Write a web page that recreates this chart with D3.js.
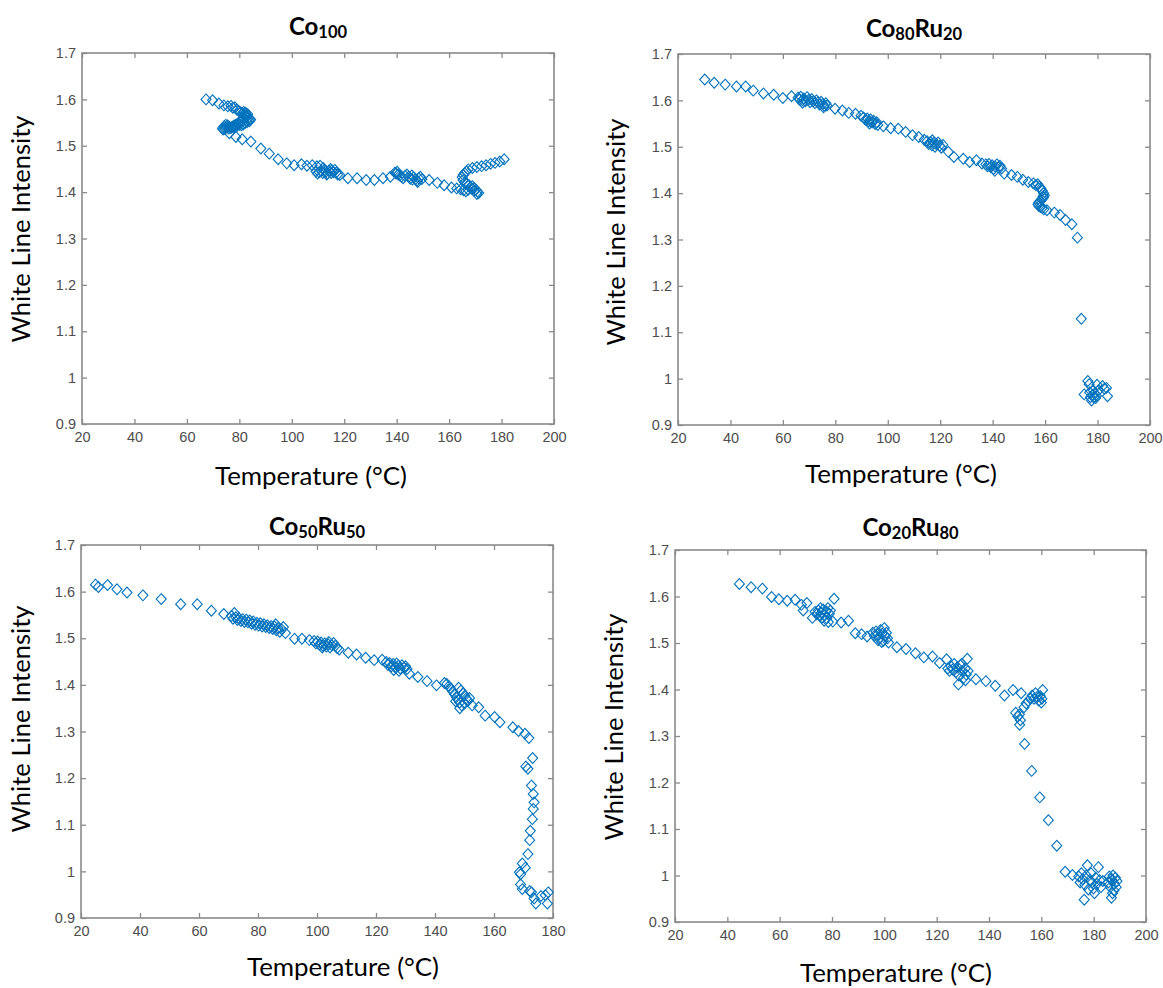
<!DOCTYPE html>
<html>
<head>
<meta charset="utf-8">
<script src="https://cdn.jsdelivr.net/npm/d3@7"></script>
<style>
  html, body { margin: 0; padding: 0; background: #ffffff; }
  svg { display: block; }
</style>
</head>
<body>
<svg id="chart" width="1163" height="988"></svg>
<script>
// ---------------- DATA ----------------
const yTickValues = [0.9, 1, 1.1, 1.2, 1.3, 1.4, 1.5, 1.6, 1.7];
const xTickValues200 = [20, 40, 60, 80, 100, 120, 140, 160, 180, 200];
const xTickValues180 = [20, 40, 60, 80, 100, 120, 140, 160, 180];
const xAxisLabel = "Temperature (°C)";
const yAxisLabel = "White Line Intensity";

const titleCo100 = [["Co", false], ["100", true]];
const titleCo80Ru20 = [["Co", false], ["80", true], ["Ru", false], ["20", true]];
const titleCo50Ru50 = [["Co", false], ["50", true], ["Ru", false], ["50", true]];
const titleCo20Ru80 = [["Co", false], ["20", true], ["Ru", false], ["80", true]];

// [temperature, white line intensity]
const co100 = [
  [67.3,1.600],[69.8,1.598],[72.2,1.591],[74.1,1.587],[75.6,1.585],[76.8,1.586],[77.5,1.582],[78.3,1.583],
  [79.0,1.578],[79.8,1.575],[80.5,1.572],[81.2,1.570],[81.8,1.567],[82.5,1.566],[83.0,1.563],[83.5,1.560],
  [84.0,1.558],[84.3,1.556],[83.8,1.553],[83.0,1.551],[82.2,1.549],[81.5,1.546],[80.8,1.544],[80.0,1.545],
  [79.2,1.543],[78.5,1.541],[77.8,1.543],[77.0,1.540],[76.2,1.541],[75.5,1.544],[74.8,1.545],[74.2,1.542],
  [73.6,1.538],[73.8,1.535],[74.5,1.536],[75.3,1.539],[76.0,1.537],[76.8,1.538],[77.6,1.540],[78.4,1.545],
  [79.3,1.548],[80.2,1.551],[81.0,1.556],[81.8,1.560],[82.6,1.564],[83.2,1.568],[82.4,1.571],[81.6,1.573],
  [76.2,1.527],[78.7,1.519],[81.1,1.514],[84.4,1.509],[88.2,1.494],[91.4,1.483],[94.8,1.471],[98.1,1.462],
  [100.9,1.458],[103.7,1.460],[105.8,1.457],[107.8,1.458],[109.6,1.456],[110.8,1.457],
  [109.2,1.445],[109.8,1.440],[110.5,1.443],[111.2,1.446],[111.8,1.441],[112.4,1.448],[113.0,1.444],[113.6,1.440],
  [114.2,1.446],[114.8,1.450],[115.3,1.447],[115.9,1.443],[116.4,1.448],[116.9,1.442],[117.5,1.438],[112.0,1.452],
  [113.3,1.438],[115.0,1.441],
  [118.3,1.437],[121.4,1.430],[124.9,1.430],[128.4,1.426],[131.5,1.426],[134.8,1.430],[137.6,1.433],
  [139.3,1.442],[139.8,1.440],[140.2,1.444],[140.6,1.438],[141.2,1.436],[141.8,1.433],[142.5,1.430],[143.2,1.435],
  [143.9,1.438],[144.6,1.433],[145.2,1.429],[145.8,1.436],[146.5,1.432],[147.2,1.428],[147.8,1.425],[148.4,1.430],
  [149.0,1.433],[149.6,1.428],[148.0,1.422],[146.0,1.427],
  [152.4,1.426],[155.5,1.420],[158.1,1.415],[160.9,1.410],[162.9,1.408],[164.4,1.406],
  [165.5,1.404],[166.4,1.402],[167.3,1.405],[168.1,1.410],[168.8,1.413],[169.5,1.409],[170.2,1.405],[170.8,1.401],
  [171.3,1.398],[170.6,1.396],[169.6,1.403],[168.6,1.407],[167.6,1.415],[166.8,1.418],[166.0,1.421],[165.3,1.426],
  [165.0,1.432],[165.4,1.437],[165.9,1.441],[166.6,1.445],[167.3,1.449],
  [168.9,1.452],[170.6,1.454],[172.4,1.456],[174.1,1.458],[175.8,1.461],[177.5,1.463],[179.3,1.466],[181.0,1.471]
];

const co80ru20 = [
  [30.2,1.645],[33.8,1.638],[38.0,1.634],[42.3,1.630],[45.8,1.630],[48.7,1.621],[52.6,1.615],[56.5,1.612],
  [60.0,1.605],[63.3,1.609],
  [65.8,1.606],[66.3,1.602],[66.8,1.608],[67.4,1.600],[68.0,1.604],[68.6,1.598],[69.2,1.607],[69.8,1.601],
  [70.4,1.596],[71.0,1.603],[71.6,1.598],[72.2,1.594],[72.8,1.600],[73.4,1.596],[74.0,1.591],[74.6,1.597],
  [75.2,1.592],[75.8,1.588],[76.4,1.594],[76.8,1.589],[75.5,1.585],[67.5,1.595],
  [79.9,1.582],[82.7,1.578],[85.1,1.573],[87.7,1.571],[89.8,1.567],
  [90.8,1.563],[91.5,1.558],[92.2,1.561],[92.8,1.555],[93.4,1.559],[94.0,1.552],[94.6,1.556],[95.2,1.549],
  [95.8,1.553],[96.2,1.547],[93.0,1.550],
  [98.3,1.544],[101.1,1.540],[104.0,1.539],[106.8,1.532],[109.4,1.525],[111.8,1.521],[113.9,1.515],
  [115.0,1.512],[115.6,1.506],[116.2,1.510],[116.8,1.503],[117.4,1.508],[118.0,1.500],[118.6,1.505],[119.2,1.509],
  [119.8,1.502],[120.4,1.498],[121.0,1.504],[117.0,1.514],
  [123.1,1.489],[125.2,1.478],[128.8,1.474],[131.2,1.467],[133.8,1.471],[135.9,1.464],
  [137.4,1.462],[138.0,1.458],[138.6,1.463],[139.2,1.456],[139.8,1.460],[140.4,1.452],[141.0,1.457],[141.6,1.462],
  [142.2,1.455],[142.8,1.459],[143.4,1.453],[140.8,1.448],
  [144.4,1.442],[147.2,1.439],[149.4,1.435],[151.5,1.429],[153.6,1.424],[155.5,1.421],
  [156.5,1.417],[157.2,1.419],[157.8,1.414],[158.4,1.410],[158.9,1.405],[159.4,1.400],[159.7,1.395],[159.3,1.390],
  [158.7,1.386],[158.1,1.383],[157.6,1.380],[157.3,1.376],[157.6,1.372],[158.2,1.370],[158.9,1.368],[159.5,1.365],
  [159.2,1.393],
  [160.7,1.363],[163.5,1.358],[165.7,1.353],[167.8,1.342],[170.2,1.333],[172.3,1.304],[173.8,1.129],
  [174.9,0.966],[176.3,0.995],[176.8,0.988],[177.3,0.960],[177.7,0.953],[178.1,0.965],[178.5,0.960],[178.9,0.968],
  [179.3,0.958],[179.6,0.963],[179.8,0.987],[180.4,0.975],[181.9,0.984],[182.6,0.978],[183.4,0.980],[183.8,0.962],
  [178.3,0.975],[177.0,0.970]
];

const co50ru50 = [
  [24.9,1.615],[25.9,1.610],[29.0,1.614],[32.2,1.605],[35.6,1.598],[41.0,1.592],[47.2,1.584],[53.8,1.573],
  [59.4,1.573],[64.2,1.559],[68.4,1.552],
  [71.0,1.548],[71.5,1.542],[72.0,1.554],[72.5,1.545],[73.0,1.539],[73.6,1.543],[74.2,1.537],[74.8,1.541],
  [75.4,1.535],[76.0,1.540],[76.6,1.534],[77.2,1.538],[77.8,1.531],[78.4,1.536],[79.0,1.529],[79.6,1.533],
  [80.2,1.527],[80.8,1.532],[81.4,1.525],[82.0,1.530],[82.6,1.524],[83.2,1.528],[83.8,1.522],[84.4,1.526],
  [85.0,1.520],[85.6,1.525],[86.2,1.517],[86.8,1.522],[87.4,1.514],[88.0,1.519],[86.0,1.530],[88.6,1.524],
  [89.3,1.511],[92.4,1.499],[94.9,1.499],[97.4,1.496],
  [99.0,1.494],[99.6,1.489],[100.2,1.493],[100.8,1.486],[101.4,1.491],[102.0,1.484],[102.6,1.489],[103.2,1.482],
  [103.8,1.487],[104.4,1.480],[105.0,1.485],[105.6,1.490],[106.2,1.484],[106.8,1.479],[104.0,1.492],[101.8,1.480],
  [107.5,1.476],[110.6,1.469],[113.4,1.465],[116.5,1.458],[119.4,1.453],[122.1,1.454],
  [123.5,1.449],[124.0,1.443],[124.6,1.447],[125.2,1.440],[125.8,1.445],[126.4,1.438],[127.0,1.446],[127.6,1.441],
  [128.2,1.435],[128.8,1.442],[129.4,1.437],[130.0,1.440],[130.5,1.434],[126.0,1.432],[127.8,1.430],
  [131.3,1.424],[134.2,1.417],[137.3,1.408],[140.5,1.399],[143.2,1.404],
  [144.0,1.402],[144.7,1.397],[145.3,1.392],[146.0,1.386],[146.6,1.380],[147.2,1.374],[147.8,1.368],[148.4,1.362],
  [149.0,1.356],[148.4,1.350],[148.0,1.394],[148.8,1.388],[149.5,1.382],[150.1,1.377],[150.6,1.371],[151.2,1.366],
  [151.7,1.372],[150.0,1.360],[147.0,1.365],
  [152.6,1.356],[154.8,1.352],[157.0,1.334],[160.2,1.331],[162.0,1.320],[166.4,1.309],[168.3,1.301],[170.5,1.295],
  [171.8,1.286],
  [170.8,1.225],[171.5,1.220],[173.1,1.243],[172.7,1.184],[173.3,1.166],[173.6,1.148],[173.3,1.134],[173.0,1.112],
  [172.3,1.087],[172.1,1.067],[171.5,1.037],[170.6,1.008],[169.6,1.017],[169.0,0.994],[168.6,0.998],[169.0,0.972],
  [169.6,0.962],[172.1,0.958],[172.7,0.955],[173.6,0.942],[174.2,0.931],[175.9,0.947],[177.4,0.949],[178.1,0.931],
  [178.4,0.955]
];

const co20ru80 = [
  [44.6,1.627],[49.1,1.620],[53.4,1.617],[56.9,1.599],[59.7,1.594],[62.9,1.591],[65.9,1.593],[68.3,1.582],
  [69.0,1.570],[70.4,1.586],[72.5,1.554],
  [73.5,1.567],[74.2,1.562],[74.8,1.570],[75.4,1.558],[76.0,1.565],[76.6,1.572],[77.2,1.560],[77.8,1.568],
  [78.4,1.575],[78.0,1.553],[77.0,1.548],[76.2,1.555],[75.6,1.575],[79.0,1.563],[79.4,1.570],[78.6,1.545],
  [80.8,1.595],
  [80.3,1.546],[83.5,1.544],[86.3,1.548],[88.9,1.521],[91.3,1.519],[93.4,1.514],
  [95.6,1.522],[96.2,1.515],[96.8,1.525],[97.4,1.518],[98.0,1.510],[98.6,1.528],[99.2,1.520],[99.6,1.505],
  [100.0,1.532],[100.4,1.515],[100.8,1.522],[101.2,1.510],[99.0,1.502],[97.6,1.506],[101.6,1.501],
  [104.8,1.491],[108.3,1.487],[111.9,1.478],[115.1,1.469],[118.4,1.471],[121.1,1.457],
  [123.8,1.465],[124.3,1.445],[124.9,1.440],[125.5,1.450],[126.1,1.443],[126.7,1.455],[127.3,1.437],[127.9,1.448],
  [128.3,1.411],[128.5,1.430],[129.1,1.452],[129.7,1.440],[130.3,1.425],[130.9,1.445],[131.3,1.432],[131.7,1.466],
  [132.0,1.440],[131.0,1.420],[129.5,1.455],
  [135.0,1.422],[138.8,1.418],[142.4,1.408],[145.9,1.387],[149.2,1.399],[152.3,1.392],
  [150.2,1.350],[151.0,1.342],[151.6,1.346],[152.0,1.334],[151.7,1.324],
  [153.4,1.362],[154.2,1.370],[155.0,1.375],[155.8,1.380],[156.5,1.387],[157.2,1.380],[157.8,1.392],[158.4,1.384],
  [159.0,1.376],[159.6,1.386],[160.2,1.380],[160.5,1.399],[160.0,1.372],
  [153.6,1.283],[156.3,1.225],[159.4,1.168],[162.7,1.119],[165.9,1.064],[169.1,1.008],[171.9,1.001],
  [174.3,0.998],[174.8,0.985],[175.3,1.005],[175.8,0.992],[176.4,0.948],[176.6,0.980],[177.2,1.000],[177.6,1.022],
  [178.0,0.970],[178.5,0.990],[179.0,1.005],[179.4,0.985],[179.9,0.972],[180.3,0.962],[180.8,0.995],[181.3,0.982],
  [181.8,1.018],[182.3,0.990],[182.8,0.975],[183.5,0.988],
  [185.6,0.985],[186.0,0.998],[186.4,0.975],[186.8,0.952],[187.1,0.990],[187.4,1.000],[187.7,0.968],[188.0,0.982],
  [188.3,0.995],[188.6,0.975],[188.9,0.988],[187.2,0.962],[186.6,0.992]
];

// ---------------- LAYOUT ----------------
const panels = [
  { data: co100,    title: titleCo100,    xTicks: xTickValues200, l: 82,  r: 554,  t: 53,  b: 424, titleY: 34.5, xlab: [311, 485], ylab: [30, 229] },
  { data: co80ru20, title: titleCo80Ru20, xTicks: xTickValues200, l: 678, r: 1150, t: 54,  b: 425, titleY: 37,   xlab: [901, 483], ylab: [625, 232] },
  { data: co50ru50, title: titleCo50Ru50, xTicks: xTickValues180, l: 81,  r: 553,  t: 545, b: 918, titleY: 535,  xlab: [343, 976], ylab: [30, 719] },
  { data: co20ru80, title: titleCo20Ru80, xTicks: xTickValues200, l: 675, r: 1146, t: 550, b: 922, titleY: 536,  xlab: [896, 982], ylab: [623, 727] }
];

const markerColor = "#0072BD";
const axisColor = "#8a8a8a";
const tickTextColor = "#4d4d4d";
const labelFont = "Lato, 'Open Sans', sans-serif";
const tickFont = "'Liberation Sans', Arial, sans-serif";

const svg = d3.select("#chart");
svg.append("rect").attr("width", 1163).attr("height", 988).attr("fill", "#fff");

const diamond = (hw, hh) => `M0,${-hh}L${hw},0L0,${hh}L${-hw},0Z`;

panels.forEach(p => {
  const xDom = [p.xTicks[0], p.xTicks[p.xTicks.length - 1]];
  const x = d3.scaleLinear().domain(xDom).range([p.l, p.r]);
  const y = d3.scaleLinear().domain([0.9, 1.7]).range([p.b, p.t]);
  const g = svg.append("g");

  // frame
  g.append("rect")
    .attr("x", p.l).attr("y", p.t)
    .attr("width", p.r - p.l).attr("height", p.b - p.t)
    .attr("fill", "none").attr("stroke", axisColor).attr("stroke-width", 1.6);

  const styleAxis = sel => {
    sel.select(".domain").remove();
    sel.selectAll(".tick line").attr("stroke", axisColor).attr("stroke-width", 1.3);
    sel.selectAll(".tick text")
      .attr("fill", tickTextColor)
      .style("font-family", tickFont)
      .style("font-size", "14.5px");
  };

  g.append("g").attr("transform", `translate(0,${p.b})`)
    .call(d3.axisBottom(x).tickValues(p.xTicks).tickFormat(d => String(d)).tickSizeInner(-5).tickSizeOuter(0).tickPadding(8))
    .call(styleAxis);
  g.append("g").attr("transform", `translate(0,${p.t})`)
    .call(d3.axisTop(x).tickValues(p.xTicks).tickFormat("").tickSizeInner(-5).tickSizeOuter(0))
    .call(styleAxis);
  g.append("g").attr("transform", `translate(${p.l},0)`)
    .call(d3.axisLeft(y).tickValues(yTickValues).tickFormat(d => String(d)).tickSizeInner(-5).tickSizeOuter(0).tickPadding(6))
    .call(styleAxis);
  g.append("g").attr("transform", `translate(${p.r},0)`)
    .call(d3.axisRight(y).tickValues(yTickValues).tickFormat("").tickSizeInner(-5).tickSizeOuter(0))
    .call(styleAxis);

  // markers
  g.append("g").selectAll("path")
    .data(p.data)
    .join("path")
    .attr("d", diamond(5, 5.4))
    .attr("transform", d => `translate(${x(d[0])},${y(d[1])})`)
    .attr("fill", "none")
    .attr("stroke", markerColor)
    .attr("stroke-width", 1.1);

  // title
  const title = g.append("text")
    .attr("x", (p.l + p.r) / 2).attr("y", p.titleY)
    .attr("text-anchor", "middle")
    .style("font-family", labelFont)
    .style("font-weight", "bold")
    .attr("fill", "#000");
  let shifted = false;
  p.title.forEach(([txt, sub]) => {
    const ts = title.append("tspan").text(txt).style("font-size", sub ? "16.5px" : "24px");
    if (sub && !shifted) { ts.attr("dy", 3); shifted = true; }
    else if (!sub && shifted) { ts.attr("dy", -3); shifted = false; }
  });

  // axis labels
  g.append("text")
    .attr("x", p.xlab[0]).attr("y", p.xlab[1])
    .attr("text-anchor", "middle")
    .attr("textLength", 192)
    .attr("lengthAdjust", "spacingAndGlyphs")
    .style("font-family", labelFont)
    .style("font-size", "24.5px")
    .attr("fill", "#000")
    .text(xAxisLabel);

  g.append("text")
    .attr("transform", `translate(${p.ylab[0]},${p.ylab[1]}) rotate(-90)`)
    .attr("text-anchor", "middle")
    .attr("textLength", 227)
    .attr("lengthAdjust", "spacingAndGlyphs")
    .style("font-family", labelFont)
    .style("font-size", "24.5px")
    .attr("fill", "#000")
    .text(yAxisLabel);
});
</script>
</body>
</html>
